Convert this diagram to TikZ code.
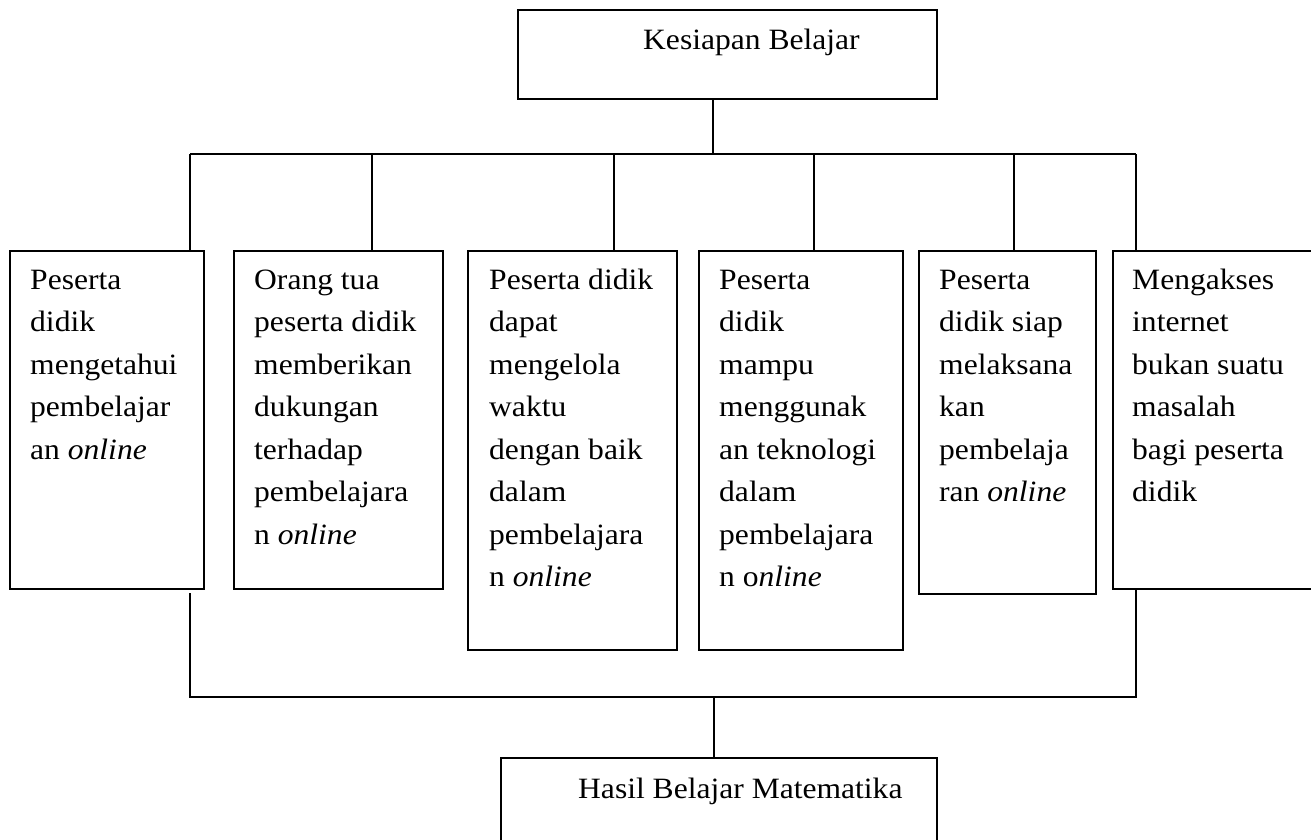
\documentclass[tikz,border=0pt]{standalone}
\usepackage{fontspec}
\setmainfont[FakeStretch=1.07]{Liberation Serif}
\newcommand{\boxtext}[1]{\parbox[t]{420pt}{\raggedright\fontsize{29.5pt}{42.5pt}\selectfont #1}}
\begin{document}
\begin{tikzpicture}[x=1pt,y=-1pt,
  box/.style={draw, line width=1.7pt, inner sep=0pt, anchor=north west},
  conn/.style={line width=1.7pt},
  lbl/.style={anchor=base west, inner sep=0pt}]
\useasboundingbox (0,0) rectangle (1311,840);

% top and bottom boxes
\node[box, minimum width=419pt, minimum height=89pt] (k) at (517,9) {};
\node[lbl] (kt) at (643,50) {\boxtext{Kesiapan Belajar}};
\node[box, minimum width=436pt, minimum height=120pt] (h) at (500,757) {};
\node[lbl] (ht) at (578,798) {\boxtext{Hasil Belajar Matematika}};

% six boxes
\node[box, minimum width=194pt, minimum height=338pt] (b1) at (9,250) {};
\node[box, minimum width=209pt, minimum height=338pt] (b2) at (233,250) {};
\node[box, minimum width=209pt, minimum height=399pt] (b3) at (467,250) {};
\node[box, minimum width=204pt, minimum height=399pt] (b4) at (698,250) {};
\node[box, minimum width=177pt, minimum height=343pt] (b5) at (918,250) {};
\node[box, minimum width=230pt, minimum height=338pt] (b6) at (1112,250) {};

\node[lbl] (l1) at (30,289) {\boxtext{Peserta\\didik\\mengetahui\\pembelajar\\an \textit{online}}};
\node[lbl] (l2) at (254,289) {\boxtext{Orang tua\\peserta didik\\memberikan\\dukungan\\terhadap\\pembelajara\\n \textit{online}}};
\node[lbl] (l3) at (489,289) {\boxtext{Peserta didik\\dapat\\mengelola\\waktu\\dengan baik\\dalam\\pembelajara\\n \textit{online}}};
\node[lbl] (l4) at (719,289) {\boxtext{Peserta\\didik\\mampu\\menggunak\\an teknologi\\dalam\\pembelajara\\n o\textit{nline}}};
\node[lbl] (l5) at (939,289) {\boxtext{Peserta\\didik siap\\melaksana\\kan\\pembelaja\\ran \textit{online}}};
\node[lbl] (l6) at (1132,289) {\boxtext{Mengakses\\internet\\bukan suatu\\masalah\\bagi peserta\\didik}};

% top connectors
\coordinate (jt) at (713,154);
\coordinate (t1) at (190,154);
\coordinate (t2) at (372,154);
\coordinate (t3) at (614,154);
\coordinate (t4) at (814,154);
\coordinate (t5) at (1014,154);
\coordinate (t6) at (1136,154);
\draw[conn] (jt |- k.south) -- (jt);
\draw[conn] (t1) -- (t6);
\draw[conn] (t1) -- (t1 |- b1.north);
\draw[conn] (t2) -- (t2 |- b2.north);
\draw[conn] (t3) -- (t3 |- b3.north);
\draw[conn] (t4) -- (t4 |- b4.north);
\draw[conn] (t5) -- (t5 |- b5.north);
\draw[conn] (t6) -- (t6 |- b6.north);

% bottom connectors
\coordinate (s1) at (190,593);
\coordinate (u1) at (190,697);
\coordinate (u6) at (1136,697);
\coordinate (ju) at (714,697);
\draw[conn] (s1) -- (u1) -- (u6) -- (u6 |- b6.south);
\draw[conn] (ju) -- (ju |- h.north);
\end{tikzpicture}
\end{document}
